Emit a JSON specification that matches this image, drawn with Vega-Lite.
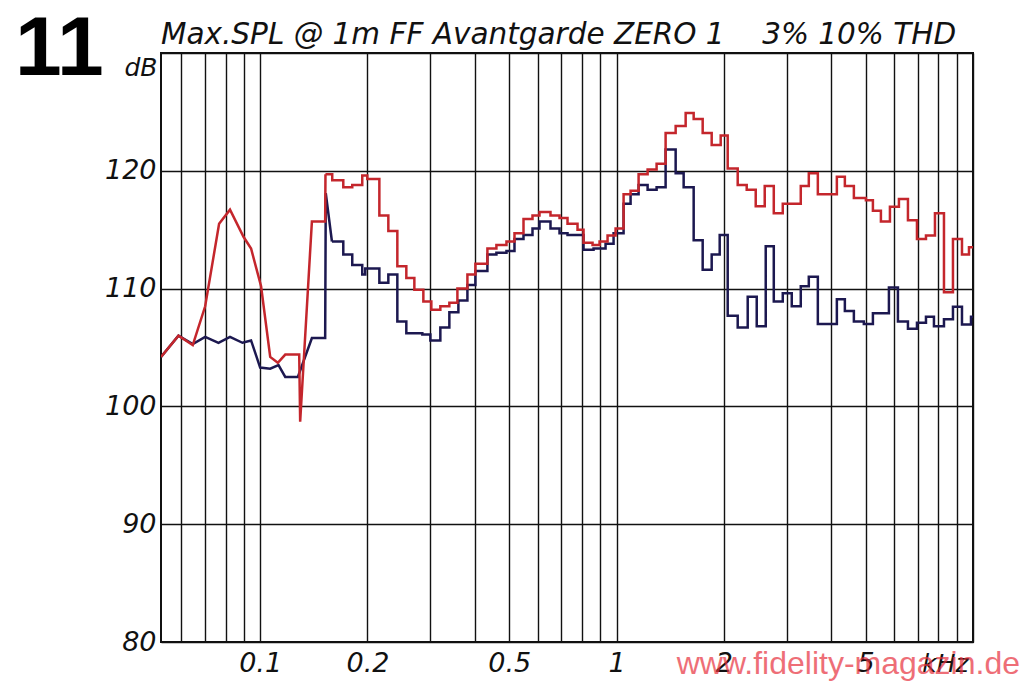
{
  "$schema": "https://vega.github.io/schema/vega-lite/v6.json",
  "width": 812,
  "height": 589,
  "autosize": {"type": "none"},
  "padding": {"left": 161, "top": 53, "right": 51, "bottom": 41},
  "background": "white",
  "config": {
    "view": {"stroke": "#111111", "strokeWidth": 2},
    "axis": {
      "gridColor": "#111111",
      "gridOpacity": 1,
      "gridWidth": 1.4,
      "ticks": false,
      "domain": false,
      "labelFont": "DejaVu Sans",
      "labelFontStyle": "italic",
      "labelFontSize": 27,
      "labelColor": "#111111",
      "titleFont": "DejaVu Sans",
      "titleFontStyle": "italic",
      "titleFontWeight": "normal",
      "titleFontSize": 25,
      "titleColor": "#111111"
    }
  },
  "datasets": {
    "b_lin": [
      {"f": 0.0527, "db": 104.2}, {"f": 0.0590, "db": 106.0}, {"f": 0.0647, "db": 105.3},
      {"f": 0.0701, "db": 105.9}, {"f": 0.0764, "db": 105.4}, {"f": 0.0823, "db": 105.9},
      {"f": 0.0892, "db": 105.4}, {"f": 0.0943, "db": 105.6}, {"f": 0.1000, "db": 103.3},
      {"f": 0.1067, "db": 103.2}, {"f": 0.1126, "db": 103.5}, {"f": 0.1176, "db": 102.5},
      {"f": 0.1276, "db": 102.5}, {"f": 0.1397, "db": 105.8}, {"f": 0.1522, "db": 105.8},
      {"f": 0.1528, "db": 118.1}, {"f": 0.1590, "db": 114.0}
    ],
    "r_lin": [
      {"f": 0.0527, "db": 104.2}, {"f": 0.0590, "db": 106.0}, {"f": 0.0647, "db": 105.2},
      {"f": 0.0701, "db": 108.5}, {"f": 0.0767, "db": 115.5}, {"f": 0.0823, "db": 116.7},
      {"f": 0.0898, "db": 114.4}, {"f": 0.0943, "db": 113.4}, {"f": 0.1006, "db": 110.2},
      {"f": 0.1067, "db": 104.2}, {"f": 0.1121, "db": 103.7}, {"f": 0.1176, "db": 104.4},
      {"f": 0.1287, "db": 104.4}, {"f": 0.1295, "db": 98.7}, {"f": 0.1397, "db": 115.7},
      {"f": 0.1522, "db": 115.7}, {"f": 0.1525, "db": 119.7}
    ],
    "b_step": [
      {"f": 0.1590, "db": 114.0}, {"f": 0.1711, "db": 112.9}, {"f": 0.1813, "db": 112.0},
      {"f": 0.1934, "db": 111.2}, {"f": 0.1972, "db": 111.7}, {"f": 0.2160, "db": 110.5},
      {"f": 0.2289, "db": 111.2}, {"f": 0.2426, "db": 107.2}, {"f": 0.2571, "db": 106.2},
      {"f": 0.2851, "db": 106.1}, {"f": 0.3003, "db": 105.6}, {"f": 0.3203, "db": 106.7},
      {"f": 0.3395, "db": 108.0}, {"f": 0.3599, "db": 109.0}, {"f": 0.3815, "db": 110.3},
      {"f": 0.4017, "db": 111.5}, {"f": 0.4341, "db": 112.9}, {"f": 0.4601, "db": 113.05},
      {"f": 0.4910, "db": 113.2}, {"f": 0.5171, "db": 114.2}, {"f": 0.5481, "db": 114.55},
      {"f": 0.5809, "db": 115.1}, {"f": 0.6078, "db": 115.7}, {"f": 0.6525, "db": 115.1},
      {"f": 0.6917, "db": 114.7}, {"f": 0.7284, "db": 114.55}, {"f": 0.8078, "db": 113.3},
      {"f": 0.8618, "db": 113.4}, {"f": 0.9313, "db": 113.8}, {"f": 0.9808, "db": 114.7},
      {"f": 1.0463, "db": 117.2}, {"f": 1.0947, "db": 118.0}, {"f": 1.1529, "db": 118.8},
      {"f": 1.2220, "db": 118.4}, {"f": 1.2951, "db": 118.6}, {"f": 1.3727, "db": 121.8},
      {"f": 1.4647, "db": 119.8}, {"f": 1.5424, "db": 118.6}, {"f": 1.6455, "db": 114.1},
      {"f": 1.7441, "db": 111.6}, {"f": 1.8486, "db": 112.9}, {"f": 1.9468, "db": 114.55},
      {"f": 2.0501, "db": 107.7}, {"f": 2.187, "db": 106.7}, {"f": 2.333, "db": 109.3},
      {"f": 2.473, "db": 106.8}, {"f": 2.621, "db": 113.6}, {"f": 2.761, "db": 108.9},
      {"f": 2.926, "db": 109.6}, {"f": 3.101, "db": 108.5}, {"f": 3.287, "db": 110.2},
      {"f": 3.462, "db": 111.0}, {"f": 3.670, "db": 107.0}, {"f": 4.150, "db": 109.1},
      {"f": 4.370, "db": 108.1}, {"f": 4.632, "db": 107.2}, {"f": 4.940, "db": 107.0},
      {"f": 5.238, "db": 107.9}, {"f": 5.809, "db": 110.1}, {"f": 6.157, "db": 107.2},
      {"f": 6.569, "db": 106.6}, {"f": 6.963, "db": 107.1}, {"f": 7.380, "db": 107.6},
      {"f": 7.770, "db": 106.8}, {"f": 8.290, "db": 107.4}, {"f": 8.786, "db": 108.45},
      {"f": 9.313, "db": 106.95}, {"f": 9.871, "db": 107.6}, {"f": 10.0, "db": 107.6}
    ],
    "r_step": [
      {"f": 0.1525, "db": 119.7}, {"f": 0.1593, "db": 119.2}, {"f": 0.1711, "db": 118.6},
      {"f": 0.1813, "db": 118.8}, {"f": 0.1934, "db": 119.6}, {"f": 0.1998, "db": 119.3},
      {"f": 0.2160, "db": 116.2}, {"f": 0.2289, "db": 114.9}, {"f": 0.2426, "db": 111.9},
      {"f": 0.2571, "db": 110.9}, {"f": 0.2708, "db": 109.9}, {"f": 0.2870, "db": 108.9},
      {"f": 0.3022, "db": 108.2}, {"f": 0.3203, "db": 108.5}, {"f": 0.3395, "db": 108.8},
      {"f": 0.3576, "db": 110.0}, {"f": 0.3815, "db": 111.2}, {"f": 0.4017, "db": 112.1},
      {"f": 0.4341, "db": 113.4}, {"f": 0.4601, "db": 113.7}, {"f": 0.4910, "db": 114.0},
      {"f": 0.5171, "db": 114.7}, {"f": 0.5481, "db": 115.9}, {"f": 0.5809, "db": 116.2},
      {"f": 0.6078, "db": 116.5}, {"f": 0.6525, "db": 116.2}, {"f": 0.6917, "db": 116.0},
      {"f": 0.7284, "db": 115.5}, {"f": 0.7770, "db": 115.0}, {"f": 0.8078, "db": 113.9},
      {"f": 0.8562, "db": 113.7}, {"f": 0.8959, "db": 114.0}, {"f": 0.9434, "db": 114.5},
      {"f": 0.9936, "db": 115.1}, {"f": 1.0463, "db": 118.0}, {"f": 1.0947, "db": 118.3},
      {"f": 1.1529, "db": 119.7}, {"f": 1.2220, "db": 120.1}, {"f": 1.2951, "db": 120.6},
      {"f": 1.3727, "db": 123.2}, {"f": 1.4647, "db": 123.8}, {"f": 1.5625, "db": 124.9},
      {"f": 1.6455, "db": 124.4}, {"f": 1.7441, "db": 123.2}, {"f": 1.8486, "db": 122.2},
      {"f": 1.9594, "db": 123.0}, {"f": 2.0501, "db": 120.2}, {"f": 2.187, "db": 118.8},
      {"f": 2.318, "db": 118.4}, {"f": 2.457, "db": 117.0}, {"f": 2.604, "db": 118.7},
      {"f": 2.761, "db": 116.4}, {"f": 2.926, "db": 117.2}, {"f": 3.287, "db": 118.7},
      {"f": 3.462, "db": 119.8}, {"f": 3.670, "db": 118.0}, {"f": 4.150, "db": 119.5},
      {"f": 4.370, "db": 118.7}, {"f": 4.632, "db": 117.7}, {"f": 5.006, "db": 117.5},
      {"f": 5.238, "db": 116.6}, {"f": 5.516, "db": 115.7}, {"f": 5.847, "db": 116.95},
      {"f": 6.197, "db": 117.6}, {"f": 6.569, "db": 115.8}, {"f": 6.963, "db": 114.2},
      {"f": 7.380, "db": 114.5}, {"f": 7.821, "db": 116.4}, {"f": 8.290, "db": 109.7},
      {"f": 8.786, "db": 114.2}, {"f": 9.313, "db": 112.9}, {"f": 9.744, "db": 113.5},
      {"f": 10.0, "db": 113.5}
    ]
  },
  "layer": [
    {
      "data": {"name": "b_lin"},
      "mark": {"type": "line", "interpolate": "linear", "color": "#1c1850", "strokeWidth": 2.5, "clip": true},
      "encoding": {
        "x": {
          "field": "f", "type": "quantitative", "title": "kHz",
          "scale": {"type": "log", "domain": [0.0527, 10], "nice": false},
          "axis": {
            "values": [0.06, 0.07, 0.08, 0.09, 0.1, 0.2, 0.3, 0.4, 0.5, 0.6, 0.7, 0.8, 0.9, 1, 2, 3, 4, 5, 6, 7, 8, 9, 10],
            "grid": true,
            "format": "~g",
            "labelExpr": "datum.value == 0.1 || datum.value == 0.2 || datum.value == 0.5 || datum.value == 1 || datum.value == 2 || datum.value == 5 ? datum.label : ''",
            "labelOverlap": false,
            "labelBound": false,
            "labelFlush": false,
            "labelPadding": 8,
            "titleX": 784,
            "titleY": 9,
            "titleAlign": "center",
            "titleBaseline": "top"
          }
        },
        "y": {
          "field": "db", "type": "quantitative", "title": "dB",
          "scale": {"domain": [80, 130], "nice": false, "zero": false},
          "axis": {
            "values": [80, 90, 100, 110, 120, 130],
            "grid": true,
            "labelExpr": "datum.value < 130 ? datum.label : ''",
            "labelPadding": 5,
            "labelBaseline": "middle",
            "titleAngle": 0,
            "titleAlign": "right",
            "titleBaseline": "top",
            "titleX": -4,
            "titleY": 2
          }
        }
      }
    },
    {
      "data": {"name": "b_step"},
      "mark": {"type": "line", "interpolate": "step-after", "color": "#1c1850", "strokeWidth": 2.5, "clip": true},
      "encoding": {
        "x": {"field": "f", "type": "quantitative", "title": "kHz"},
        "y": {"field": "db", "type": "quantitative", "title": "dB"}
      }
    },
    {
      "data": {"name": "r_lin"},
      "mark": {"type": "line", "interpolate": "linear", "color": "#c4262c", "strokeWidth": 2.5, "clip": true},
      "encoding": {
        "x": {"field": "f", "type": "quantitative", "title": "kHz"},
        "y": {"field": "db", "type": "quantitative", "title": "dB"}
      }
    },
    {
      "data": {"name": "r_step"},
      "mark": {"type": "line", "interpolate": "step-after", "color": "#c4262c", "strokeWidth": 2.5, "clip": true},
      "encoding": {
        "x": {"field": "f", "type": "quantitative", "title": "kHz"},
        "y": {"field": "db", "type": "quantitative", "title": "dB"}
      }
    },
    {
      "data": {"values": [{"t": "Max.SPL @ 1m FF Avantgarde ZERO 1\u00a0\u00a0\u00a0 3% 10% THD"}]},
      "mark": {"type": "text", "font": "DejaVu Sans", "fontStyle": "italic", "fontWeight": "normal", "fontSize": 29.5, "align": "left", "baseline": "alphabetic", "dx": 0, "dy": -9, "color": "#111111"},
      "encoding": {
        "x": {"datum": 0.0527, "type": "quantitative"},
        "y": {"datum": 130, "type": "quantitative"},
        "text": {"field": "t"}
      }
    },
    {
      "data": {"values": [{"t": "11"}]},
      "mark": {"type": "text", "font": "Liberation Sans", "fontWeight": "bold", "fontSize": 84, "align": "left", "baseline": "alphabetic", "dx": -146, "dy": 22, "color": "#000000"},
      "encoding": {
        "x": {"datum": 0.0527, "type": "quantitative"},
        "y": {"datum": 130, "type": "quantitative"},
        "text": {"field": "t"}
      }
    },
    {
      "data": {"values": [{"t": "www.fidelity-magazin.de"}]},
      "mark": {"type": "text", "font": "Liberation Sans", "fontSize": 32, "align": "right", "baseline": "alphabetic", "dx": 47, "dy": 32, "color": "#e8323e", "opacity": 0.7},
      "encoding": {
        "x": {"datum": 10, "type": "quantitative"},
        "y": {"datum": 80, "type": "quantitative"},
        "text": {"field": "t"}
      }
    }
  ]
}
